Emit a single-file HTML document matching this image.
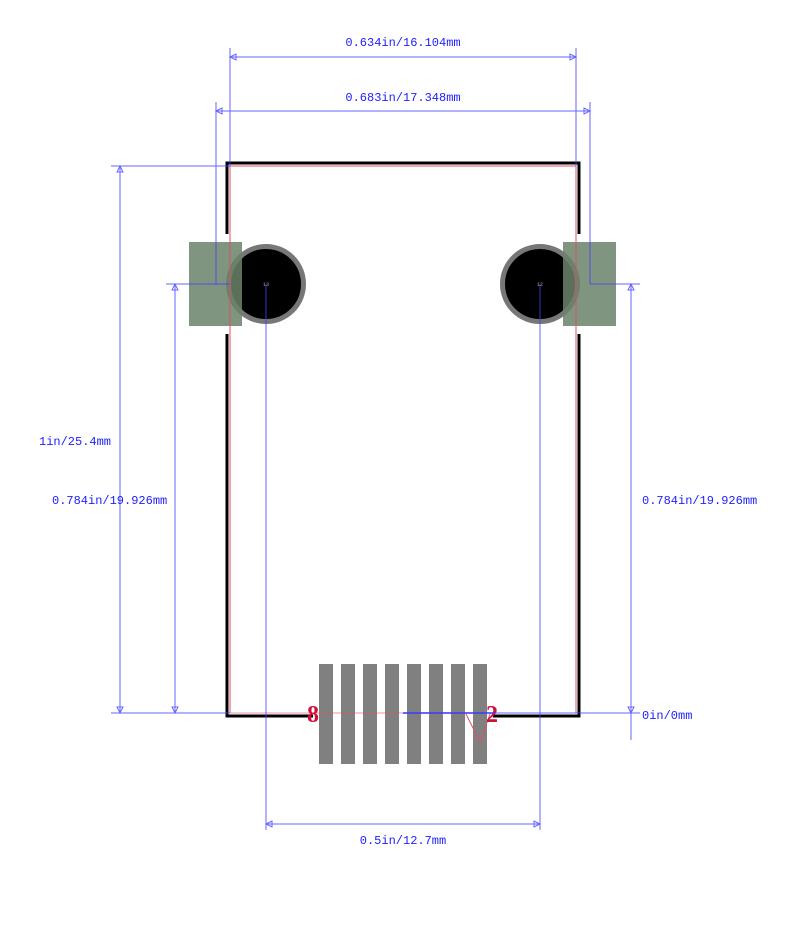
<!DOCTYPE html>
<html><head><style>body{margin:0;background:#fff}svg{display:block}</style></head><body>
<svg width="800" height="938" xmlns="http://www.w3.org/2000/svg" font-family="Liberation Mono, monospace">
<rect width="800" height="938" fill="#fff"/>
<!-- pads -->
<g fill="#808080">
<rect x="319" y="664" width="14" height="100"/><rect x="341" y="664" width="14" height="100"/>
<rect x="363" y="664" width="14" height="100"/><rect x="385" y="664" width="14" height="100"/>
<rect x="407" y="664" width="14" height="100"/><rect x="429" y="664" width="14" height="100"/>
<rect x="451" y="664" width="14" height="100"/><rect x="473" y="664" width="14" height="100"/>
</g>
<circle cx="266" cy="284" r="37.5" fill="#000" stroke="#777" stroke-width="5"/>
<circle cx="540" cy="284" r="37.5" fill="#000" stroke="#777" stroke-width="5"/>
<rect x="189" y="242" width="53" height="84" fill="rgb(105,131,106)" fill-opacity="0.855"/>
<rect x="563" y="242" width="53" height="84" fill="rgb(105,131,106)" fill-opacity="0.855"/>
<text x="266" y="286" font-size="5" fill="#aaa" text-anchor="middle">13</text>
<text x="540" y="286" font-size="5" fill="#aaa" text-anchor="middle">12</text>
<!-- outline black -->
<g stroke="#000" stroke-width="3" fill="none">
<polyline points="227,234 227,163 579,163 579,234"/>
<polyline points="227,334 227,716 313,716"/>
<polyline points="579,334 579,716 493,716"/>
</g>
<!-- red -->
<g stroke="#e05060" stroke-width="1" fill="none">
<polyline points="230,713 230,166 576,166 576,713"/>
<line x1="230" y1="713" x2="403" y2="713" stroke-opacity="0.6"/>
<polyline points="466,714 480,742 490,714"/>
</g>
<text x="307" y="722" font-size="24" font-weight="bold" fill="#d0103a" font-family="Liberation Serif, serif">8</text>
<text x="486" y="722" font-size="24" font-weight="bold" fill="#d0103a" font-family="Liberation Serif, serif">2</text>
<!-- dimension lines -->
<g stroke="#4040ff" stroke-width="1" fill="none" opacity="0.8">
<line x1="230" y1="57" x2="576" y2="57"/><line x1="230" y1="48" x2="230" y2="166"/><line x1="576" y1="48" x2="576" y2="166"/>
<line x1="216" y1="111" x2="590" y2="111"/><line x1="216" y1="102" x2="216" y2="284"/><line x1="590" y1="102" x2="590" y2="284"/>
<line x1="120" y1="166" x2="120" y2="713"/><line x1="111" y1="166" x2="230" y2="166"/><line x1="111" y1="713" x2="230" y2="713"/>
<line x1="175" y1="284" x2="175" y2="713"/><line x1="166" y1="284" x2="230" y2="284"/>
<line x1="631" y1="284" x2="631" y2="740"/><line x1="590" y1="284" x2="640" y2="284"/><line x1="493" y1="713" x2="640" y2="713"/>
<line x1="403" y1="713" x2="493" y2="713" stroke-width="2"/>
<line x1="266" y1="284" x2="266" y2="830"/><line x1="540" y1="284" x2="540" y2="830"/>
<line x1="266" y1="824" x2="540" y2="824"/>
<path d="M230,57l6,-3v6z M576,57l-6,-3v6z M216,111l6,-3v6z M590,111l-6,-3v6z M120,166l-3,6h6z M120,713l-3,-6h6z M175,284l-3,6h6z M175,713l-3,-6h6z M631,284l-3,6h6z M631,713l-3,-6h6z M266,824l6,-3v6z M540,824l-6,-3v6z"/>
</g>
<g fill="#2020ff" font-size="12">
<text x="403" y="46" text-anchor="middle">0.634in/16.104mm</text>
<text x="403" y="101" text-anchor="middle">0.683in/17.348mm</text>
<text x="39" y="445">1in/25.4mm</text>
<text x="52" y="504">0.784in/19.926mm</text>
<text x="642" y="504">0.784in/19.926mm</text>
<text x="642" y="719">0in/0mm</text>
<text x="403" y="844" text-anchor="middle">0.5in/12.7mm</text>
</g>
</svg>
</body></html>
